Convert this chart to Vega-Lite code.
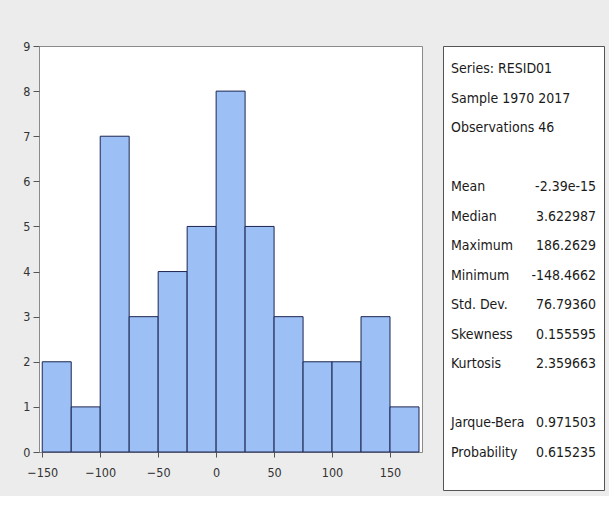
{
  "$schema": "https://vega.github.io/schema/vega-lite/v6.json",
  "background": "#ececec",
  "padding": {"left": 22, "top": 39, "right": 5, "bottom": 5},
  "spacing": 19,
  "config": {
    "font": "DejaVu Sans Condensed, sans-serif",
    "axis": {"grid": false, "labelFont": "DejaVu Sans Condensed, sans-serif", "labelColor": "#333333", "labelFontSize": 12.5, "tickColor": "#555555", "labelFlush": false}
  },
  "datasets": {
    "bins": [
      {"start": -150, "end": -125, "count": 2},
      {"start": -125, "end": -100, "count": 1},
      {"start": -100, "end": -75, "count": 7},
      {"start": -75, "end": -50, "count": 3},
      {"start": -50, "end": -25, "count": 4},
      {"start": -25, "end": 0, "count": 5},
      {"start": 0, "end": 25, "count": 8},
      {"start": 25, "end": 50, "count": 5},
      {"start": 50, "end": 75, "count": 3},
      {"start": 75, "end": 100, "count": 2},
      {"start": 100, "end": 125, "count": 2},
      {"start": 125, "end": 150, "count": 3},
      {"start": 150, "end": 175, "count": 1}
    ],
    "stats": [
      {"line": 0, "label": "Series: RESID01", "value": ""},
      {"line": 1, "label": "Sample 1970 2017", "value": ""},
      {"line": 2, "label": "Observations 46", "value": ""},
      {"line": 4, "label": "Mean", "value": "-2.39e-15"},
      {"line": 5, "label": "Median", "value": "3.622987"},
      {"line": 6, "label": "Maximum", "value": "186.2629"},
      {"line": 7, "label": "Minimum", "value": "-148.4662"},
      {"line": 8, "label": "Std. Dev.", "value": "76.79360"},
      {"line": 9, "label": "Skewness", "value": "0.155595"},
      {"line": 10, "label": "Kurtosis", "value": "2.359663"},
      {"line": 12, "label": "Jarque-Bera", "value": "0.971503"},
      {"line": 13, "label": "Probability", "value": "0.615235"}
    ]
  },
  "hconcat": [
    {
      "width": 383,
      "height": 406,
      "view": {"fill": "white", "stroke": "#8a8a8a"},
      "data": {"name": "bins"},
      "mark": {"type": "rect", "fill": "#9cc0f6", "stroke": "#1c2550", "strokeWidth": 1},
      "encoding": {
        "x": {
          "field": "start", "type": "quantitative",
          "scale": {"domain": [-152.8, 177.6], "nice": false, "zero": false},
          "axis": {"title": null, "values": [-150, -100, -50, 0, 50, 100, 150], "domain": false, "tickSize": 5, "labelPadding": 9}
        },
        "x2": {"field": "end"},
        "y": {
          "field": "count", "type": "quantitative",
          "scale": {"domain": [0, 9], "nice": false},
          "axis": {"title": null, "values": [0, 1, 2, 3, 4, 5, 6, 7, 8, 9], "domain": false, "tickSize": 6, "labelPadding": 3}
        },
        "y2": {"datum": 0}
      }
    },
    {
      "width": 161,
      "height": 444,
      "view": {"fill": "white", "stroke": "#555555"},
      "data": {"name": "stats"},
      "encoding": {
        "y": {"field": "line", "type": "quantitative", "scale": {"domain": [-0.78, 14.27], "reverse": true, "nice": false, "zero": false}, "axis": null}
      },
      "layer": [
        {
          "mark": {"type": "text", "align": "left", "baseline": "middle", "fontSize": 14, "color": "#1a1a1a"},
          "encoding": {
            "x": {"datum": 0, "type": "quantitative", "scale": {"domain": [-0.055, 1.055], "nice": false, "zero": false}, "axis": null},
            "text": {"field": "label"}
          }
        },
        {
          "mark": {"type": "text", "align": "right", "baseline": "middle", "fontSize": 14, "color": "#1a1a1a"},
          "encoding": {
            "x": {"datum": 1, "type": "quantitative"},
            "text": {"field": "value"}
          }
        }
      ]
    }
  ]
}
